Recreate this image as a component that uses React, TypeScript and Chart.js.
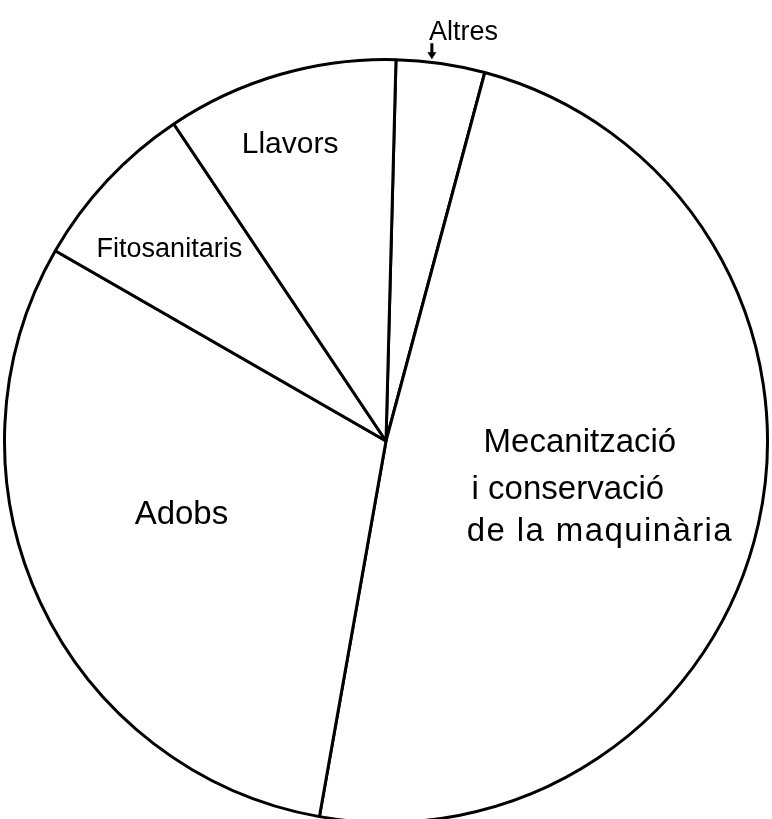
import React, { useEffect, useRef } from "react";
import { Chart, registerables } from "chart.js";

Chart.register(...registerables);

// ---- data ----
const categories = [
  "Altres",
  "Mecanització i conservació de la maquinària",
  "Adobs",
  "Fitosanitaris",
  "Llavors",
];
const shares = [3.75, 48.6, 30.5, 7.3, 9.8];
const labelLines = [
  ["Altres"],
  ["Mecanització", "i conservació", "de la maquinària"],
  ["Adobs"],
  ["Fitosanitaris"],
  ["Llavors"],
];
const startRotation = 1.5; // degrees clockwise from 12 o'clock

// label placement relative to each slice: angle shift from slice middle (deg),
// radius fraction, font size, per-line offsets [dx, dy, letterSpacing]
const labelPlacement = [
  { dAngle: 2.5, frac: 1.09, size: 27, lines: [[0, 0, 0]] },
  { dAngle: 0.6, frac: 0.53, size: 33, lines: [[-3, -44, 0], [-15, 3, 0], [17, 45, 1.4]] },
  { dAngle: 5.2, frac: 0.57, size: 33, lines: [[0, 0, 0]] },
  { dAngle: -1.4, frac: 0.76, size: 27, lines: [[0, 1, 0]] },
  { dAngle: -1.7, frac: 0.82, size: 30, lines: [[0, 2, 0]] },
];

const FONT = '"Liberation Sans", Arial, sans-serif';

const handLabels = {
  id: "handLabels",
  afterDraw(chart: any) {
    const ctx = chart.ctx as CanvasRenderingContext2D;
    const meta = chart.getDatasetMeta(0);
    ctx.save();
    ctx.fillStyle = "#000";
    ctx.strokeStyle = "#000";
    ctx.textAlign = "center";
    ctx.textBaseline = "middle";
    meta.data.forEach((arc: any, i: number) => {
      const p = labelPlacement[i];
      const { x, y, startAngle, endAngle, outerRadius } = arc.getProps(
        ["x", "y", "startAngle", "endAngle", "outerRadius"],
        true
      );
      const mid = (startAngle + endAngle) / 2;
      const a = mid + (p.dAngle * Math.PI) / 180;
      const ax = x + Math.cos(a) * outerRadius * p.frac;
      const ay = y + Math.sin(a) * outerRadius * p.frac;
      ctx.font = `${p.size}px ${FONT}`;
      labelLines[i].forEach((t, k) => {
        const [dx, dy, ls] = p.lines[k];
        (ctx as any).letterSpacing = `${ls}px`;
        ctx.fillText(t, ax + dx, ay + dy);
      });
      (ctx as any).letterSpacing = "0px";
      if (i === 0) {
        // small arrow pointing from label to its slice
        const b = mid - (1.4 * Math.PI) / 180;
        const tx = x + Math.cos(b) * (outerRadius + 3);
        const ty = y + Math.sin(b) * (outerRadius + 3);
        ctx.lineWidth = 3;
        ctx.beginPath();
        ctx.moveTo(tx, ty - 16);
        ctx.lineTo(tx, ty - 4);
        ctx.stroke();
        ctx.beginPath();
        ctx.moveTo(tx - 4.5, ty - 7);
        ctx.lineTo(tx + 4.5, ty - 7);
        ctx.lineTo(tx, ty);
        ctx.closePath();
        ctx.fill();
      }
    });
    ctx.restore();
  },
};

export default function App() {
  const ref = useRef<HTMLCanvasElement | null>(null);
  useEffect(() => {
    if (!ref.current) return;
    const chart = new Chart(ref.current, {
      type: "pie",
      data: {
        labels: categories,
        datasets: [
          {
            data: shares,
            backgroundColor: "#ffffff",
            borderColor: "#000000",
            borderWidth: 3,
            hoverOffset: 0,
          },
        ],
      },
      options: {
        responsive: false,
        animation: false,
        rotation: startRotation,
        layout: { padding: { left: 3, right: 3, top: 58, bottom: 6 } },
        plugins: {
          legend: { display: false },
          tooltip: { enabled: false },
        },
        events: [],
      },
      plugins: [handLabels],
    });
    return () => chart.destroy();
  }, []);
  return (
    <div
      style={{
        position: "fixed",
        left: 0,
        top: 0,
        width: 772,
        height: 819,
        overflow: "hidden",
        background: "#fff",
      }}
    >
      <canvas ref={ref} width={772} height={830} style={{ display: "block" }} />
    </div>
  );
}
